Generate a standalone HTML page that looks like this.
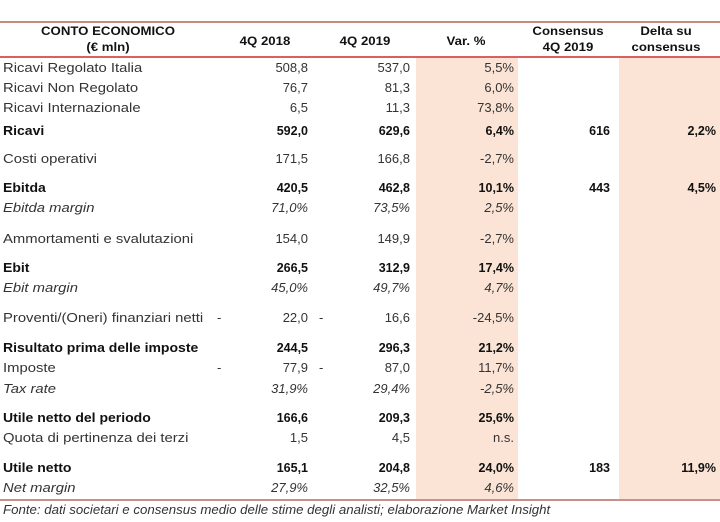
<!DOCTYPE html>
<html><head><meta charset="utf-8"><style>
body{margin:0;width:720px;height:522px;background:#fff;position:relative;overflow:hidden;font-family:"Liberation Sans",sans-serif;color:#333}
.sh{position:absolute;background:#fbe4d5;top:58px;height:442px}
.t{position:absolute;font-size:13px;line-height:16px;white-space:nowrap;transform-origin:left center}
.lab{transform:scaleX(1.14)}
.lab.b{transform:scaleX(1.12)}
.r{text-align:right;transform-origin:right center}
.b{font-weight:bold;color:#111}
.i{font-style:italic}
.h{position:absolute;font-size:12px;font-weight:bold;line-height:16px;text-align:center;color:#111;transform:scaleX(1.1)}
</style></head><body>
<div class="sh" style="left:416px;width:102px"></div>
<div class="sh" style="left:619px;width:101px"></div>
<div style="position:absolute;left:0;top:21px;width:720px;height:2px;background:#c88a7e"></div>
<div style="position:absolute;left:0;top:56px;width:720px;height:2px;background:#d9605e"></div>
<div style="position:absolute;left:0;top:499px;width:720px;height:2px;background:#c9908a"></div>

<div class="h" style="left:8px;width:200px;top:23px">CONTO ECONOMICO<br>(€ mln)</div>
<div class="h" style="left:215px;width:100px;top:33px">4Q 2018</div>
<div class="h" style="left:315px;width:100px;top:33px">4Q 2019</div>
<div class="h" style="left:416px;width:100px;top:33px">Var. %</div>
<div class="h" style="left:518px;width:100px;top:23px">Consensus<br>4Q 2019</div>
<div class="h" style="left:616px;width:100px;top:23px">Delta su<br>consensus</div>

<div id="rows"></div>
<div class="t i" style="left:3px;top:502px;font-size:12.5px;transform:scaleX(1.06)">Fonte: dati societari e consensus medio delle stime degli analisti; elaborazione Market Insight</div>

<script>
const rows=[
[68,'Ricavi Regolato Italia','508,8','537,0','5,5%','','',''],
[88,'Ricavi Non Regolato','76,7','81,3','6,0%','','',''],
[108,'Ricavi Internazionale','6,5','11,3','73,8%','','',''],
[131,'Ricavi','592,0','629,6','6,4%','616','2,2%','b'],
[159,'Costi operativi','171,5','166,8','-2,7%','','',''],
[188,'Ebitda','420,5','462,8','10,1%','443','4,5%','b'],
[208,'Ebitda margin','71,0%','73,5%','2,5%','','','i'],
[239,'Ammortamenti e svalutazioni','154,0','149,9','-2,7%','','',''],
[268,'Ebit','266,5','312,9','17,4%','','','b'],
[288,'Ebit margin','45,0%','49,7%','4,7%','','','i'],
[318,'Proventi/(Oneri) finanziari netti','22,0','16,6','-24,5%','','','d'],
[348,'Risultato prima delle imposte','244,5','296,3','21,2%','','','b'],
[368,'Imposte','77,9','87,0','11,7%','','','d'],
[389,'Tax rate','31,9%','29,4%','-2,5%','','','i'],
[418,'Utile netto del periodo','166,6','209,3','25,6%','','','b'],
[438,'Quota di pertinenza dei terzi','1,5','4,5','n.s.','','',''],
[468,'Utile netto','165,1','204,8','24,0%','183','11,9%','b'],
[488,'Net margin','27,9%','32,5%','4,6%','','','i']
];
const rights=[308,410,514,610,716];
const host=document.getElementById('rows');
rows.forEach(function(r){
  const y=r[0]-8, st=r[7];
  const cls=(st==='b'?' b':'')+(st==='i'?' i':'');
  const lab=document.createElement('div');
  lab.className='t lab'+cls;
  lab.style.left='3px';lab.style.top=y+'px';
  if(st==='b')lab.style.fontSize='12.5px';
  lab.textContent=r[1];
  
  
  host.appendChild(lab);
  for(let k=0;k<5;k++){
    const v=r[2+k]; if(!v)continue;
    const c=document.createElement('div');
    c.className='t r'+cls;
    if(st==='b')c.style.fontSize='12.5px';
    c.style.right=(720-rights[k])+'px';c.style.top=y+'px';
    c.textContent=v;
    
    
    host.appendChild(c);
  }
  if(st==='d'){
    [217,319].forEach(function(x){
      const d=document.createElement('div');
      d.className='t';d.style.left=x+'px';d.style.top=y+'px';d.textContent='-';
      
      
      host.appendChild(d);
    });
  }
});
</script>
</body></html>
